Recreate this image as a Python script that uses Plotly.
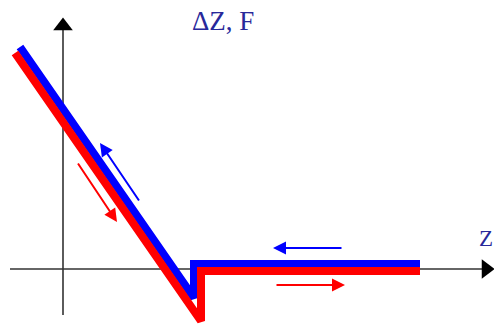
import plotly.graph_objects as go

# Schematic data (z, F) in axis units, origin at the axes crossing
blue_z = [-43, 131, 131, 357]
blue_f = [222, -29, 5, 5]
red_z = [-48, 138, 138, 357]
red_f = [216, -52, -2, -2]

# direction arrows: (tail_z, tail_f, head_z, head_f)
blue_arrows = [(77, 67, 37, 126), (280, 21, 210, 21)]
red_arrows = [(14, 107, 54, 47), (212, -16, 282, -16)]

axis_z = [-53, 431]
axis_f = [-46, 251]

title_text = "ΔZ, F"
z_label = "Z"

BLUE = "#0000ff"
RED = "#ff0000"
TEXT = "#28289a"

fig = go.Figure()

# axes lines
fig.add_trace(go.Scatter(x=[axis_z[0], axis_z[1] - 8], y=[0, 0], mode="lines",
                         line=dict(color="#333333", width=1.6), hoverinfo="skip"))
fig.add_trace(go.Scatter(x=[0, 0], y=[axis_f[0], axis_f[1] - 8], mode="lines",
                         line=dict(color="#333333", width=1.6), hoverinfo="skip"))
# axis arrowheads
fig.add_trace(go.Scatter(x=[0], y=[axis_f[1] - 8], mode="markers",
                         marker=dict(symbol="triangle-up", size=17, color="black"),
                         hoverinfo="skip"))
fig.add_trace(go.Scatter(x=[axis_z[1] - 8], y=[0], mode="markers",
                         marker=dict(symbol="triangle-right", size=17, color="black"),
                         hoverinfo="skip"))

fig.add_trace(go.Scatter(x=blue_z, y=blue_f, mode="lines",
                         line=dict(color=BLUE, width=8), hoverinfo="skip"))
fig.add_trace(go.Scatter(x=red_z, y=red_f, mode="lines",
                         line=dict(color=RED, width=8), hoverinfo="skip"))

for color, arrows in ((BLUE, blue_arrows), (RED, red_arrows)):
    for tz, tf, hz, hf in arrows:
        fig.add_annotation(x=hz, y=hf, ax=tz, ay=tf, xref="x", yref="y",
                           axref="x", ayref="y", showarrow=True, text="",
                           arrowhead=2, arrowsize=1.3, arrowwidth=2,
                           arrowcolor=color, standoff=0)

fig.add_annotation(x=127, y=248, text=title_text, showarrow=False,
                   xanchor="left", yanchor="middle",
                   font=dict(family="Liberation Serif", size=27, color=TEXT))
fig.add_annotation(x=423, y=31, text=z_label, showarrow=False,
                   xanchor="center", yanchor="middle",
                   font=dict(family="Liberation Serif", size=23, color=TEXT))

fig.update_layout(width=494, height=327, margin=dict(l=0, r=0, t=0, b=0),
                  showlegend=False, plot_bgcolor="white", paper_bgcolor="white",
                  xaxis=dict(range=[-63, 431], visible=False, fixedrange=True),
                  yaxis=dict(range=[-58, 269], visible=False, fixedrange=True))

fig.write_html("out.html", config={"displayModeBar": False},
               post_script="document.body.style.margin='0';document.body.style.overflow='hidden';")
